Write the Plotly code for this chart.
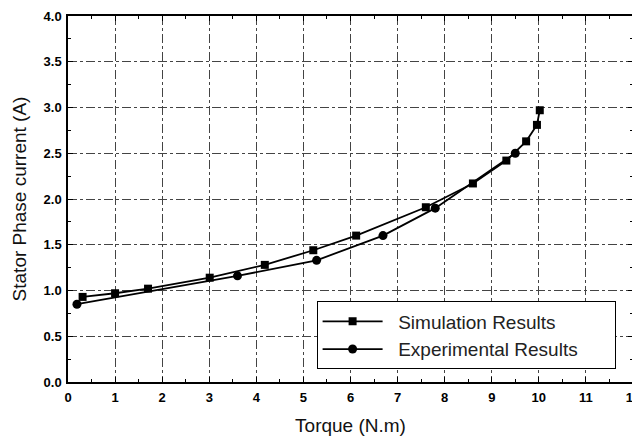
import plotly.graph_objects as go

sim_x = [0.31, 1.0, 1.70, 3.01, 4.18, 5.21, 6.12, 7.6, 8.6, 9.31, 9.73, 9.96, 10.02]
sim_y = [0.93, 0.97, 1.02, 1.14, 1.28, 1.44, 1.60, 1.91, 2.17, 2.42, 2.63, 2.81, 2.97]

exp_x = [0.19, 3.6, 5.28, 6.69, 7.8, 9.5]
exp_y = [0.85, 1.16, 1.33, 1.60, 1.90, 2.50]

x_ticks = list(range(0, 13))
y_ticks = [0.0, 0.5, 1.0, 1.5, 2.0, 2.5, 3.0, 3.5, 4.0]
y_labels = ["%.1f" % v for v in y_ticks]

FONT = "Liberation Sans, Arial, sans-serif"
LPAD = "\u00a0" * 2
RPAD = "\u00a0" * 6

fig = go.Figure()
fig.add_trace(go.Scatter(
    x=exp_x, y=exp_y, mode="lines+markers", name=LPAD + "Experimental Results" + RPAD,
    line=dict(color="black", width=1.8),
    marker=dict(symbol="circle", size=9, color="black"),
    legendrank=2,
))
fig.add_trace(go.Scatter(
    x=sim_x, y=sim_y, mode="lines+markers", name=LPAD + "Simulation Results" + RPAD,
    line=dict(color="black", width=1.8),
    marker=dict(symbol="square", size=8, color="black"),
    legendrank=1,
))

axis_common = dict(
    showline=True, linecolor="black", linewidth=1.5, mirror="allticks",
    ticks="inside", ticklen=5, tickcolor="black", tickwidth=1,
    showgrid=True, gridcolor="#444444", griddash="dashdot", gridwidth=1,
    zeroline=False, automargin=False, ticklabeloverflow="allow",
    tickfont=dict(family=FONT, size=13, color="black", weight="bold"),
    title_font=dict(family=FONT, size=19, color="#111111"),
)

fig.update_xaxes(
    range=[0, 12], tickmode="array", tickvals=x_ticks,
    ticktext=[str(v) for v in x_ticks], ticklabelstandoff=3,
    minor=dict(ticks="inside", ticklen=3, tickcolor="black", dtick=0.5, showgrid=False),
    title_text="Torque (N.m)", title_standoff=14,
    **axis_common,
)
fig.update_yaxes(
    range=[0, 4], tickmode="array", tickvals=y_ticks, ticktext=y_labels,
    ticklabelstandoff=2,
    minor=dict(ticks="inside", ticklen=3, tickcolor="black", dtick=0.25, showgrid=False),
    title_text="Stator Phase current (A)", title_standoff=12,
    **axis_common,
)

fig.update_layout(
    width=632, height=431,
    margin=dict(l=60, r=7, t=8, b=57),
    plot_bgcolor="white", paper_bgcolor="white",
    font=dict(family=FONT, color="black"),
    legend=dict(
        x=0.44, y=0.22, xanchor="left", yanchor="top",
        bgcolor="white", bordercolor="black", borderwidth=1,
        font=dict(family=FONT, size=19, color="#222222"),
        tracegroupgap=0, itemwidth=60,
    ),
    showlegend=True,
)

fig.write_html("out.html")
